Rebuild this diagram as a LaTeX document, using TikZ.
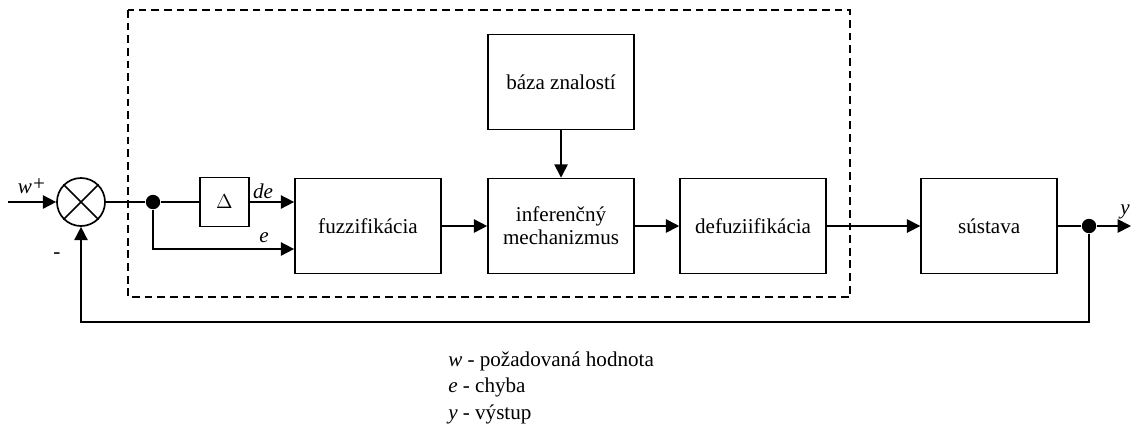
\documentclass[tikz,border=0pt]{standalone}
\usepackage{fontspec}
\setmainfont{Liberation Serif}
\usetikzlibrary{arrows.meta, positioning}

\begin{document}
\begin{tikzpicture}[x=0.025cm, y=-0.025cm, line width=1.2pt, node distance=4.8cm, on grid,
        >={Triangle[length=9.5pt,width=9.5pt]},
        block/.style={rectangle, draw, minimum width=3.65cm, minimum height=2.375cm, align=center, font=\fontsize{15}{16.5}\selectfont},
        sum/.style={circle, draw, minimum size=1.2cm, inner sep=0pt},
        dot/.style={circle, fill, inner sep=0pt, minimum size=3.6mm},
        lbl/.style={font=\fontsize{15}{18}\selectfont, inner sep=1pt}]

        \useasboundingbox (0,0) rectangle (1131,430);

        % regulator
        \draw[dash pattern=on 5.5pt off 3.5pt] (128,10) rectangle (850,297);

        \node[block] (fuzz) at (368,226) {fuzzifikácia};
        \node[block, right=4.825cm of fuzz] (inf) {inferenčný\\mechanizmus};
        \node[block, above=3.6cm of inf] (baza) {báza znalostí};
        \node[block, right=4.8cm of inf] (defuz) {defuziifikácia};
        \node[block, minimum width=3.4cm, right=5.9cm of defuz] (sys) {sústava};

        \node[rectangle, draw, minimum size=1.225cm, font=\fontsize{15}{18}\selectfont] (delta) at (224.5,202) {$\Delta$};
        \node[sum] (sum) at (81,202) {};
        \draw (sum.north west) -- (sum.south east);
        \draw (sum.north east) -- (sum.south west);

        \node[dot] (j1) at (153,202) {};
        \node[dot] (j2) at (1089,226) {};
        \coordinate (in) at (8,202);
        \coordinate (out) at (1131,226);
        \coordinate (fb) at (1089,322);

        \path[->]
        (in) edge (sum)
        (fuzz) edge (inf)
        (inf) edge (defuz)
        (baza) edge (inf)
        (defuz) edge (sys)
        (j2) edge (out);

        \draw (sum) -- (j1);
        \draw (j1) -- (delta);
        \draw[->] (delta.east) -- (fuzz.west |- delta.east);
        \draw[->] (j1) |- ([yshift=-0.575cm]fuzz.west);
        \draw (sys) -- (j2);
        \draw[->] (j2) -- (fb) -| (sum);

        \node[lbl, anchor=base] (de) at (263,198) {\textit{de}};
        \node[lbl, anchor=base] (e) at (264,242) {\textit{e}};
        \node[lbl, anchor=base] (w) at (25,193) {\textit{w}};
        \node[lbl] (plus) at (39,185) {+};
        \node[lbl] (minus) at (57,256) {-};
        \node[lbl, anchor=base] (y) at (1125,214) {\textit{y}};

        % legenda
        \node[lbl, anchor=base west] (lw) at (446,366) {\textit{w} - požadovaná hodnota};
        \node[lbl, anchor=base west] (le) at (446,392.5) {\textit{e} - chyba};
        \node[lbl, anchor=base west] (ly) at (446,419) {\textit{y} - výstup};

\end{tikzpicture}
\end{document}
